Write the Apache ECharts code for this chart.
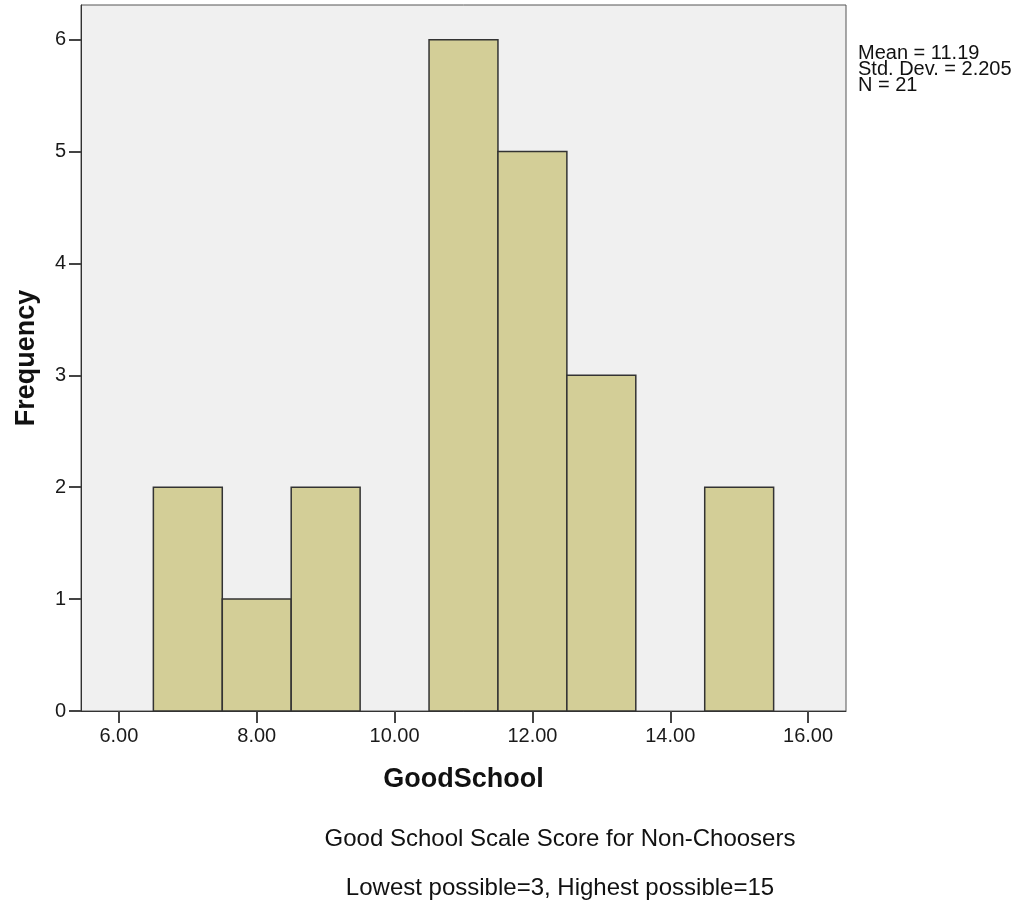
<!DOCTYPE html>
<html>
<head>
<meta charset="utf-8">
<script src="https://cdn.jsdelivr.net/npm/echarts@6/dist/echarts.min.js"></script>
<style>
html,body{margin:0;padding:0;background:#fff;}
#chart{width:1015px;height:900px;}
</style>
</head>
<body>
<div id="chart"></div>
<script>
// Histogram bins (lower edge, upper edge) and frequencies
var binStart = [6.5, 7.5, 8.5, 10.5, 11.5, 12.5, 14.5];
var binEnd   = [7.5, 8.5, 9.5, 11.5, 12.5, 13.5, 15.5];
var frequency = [2, 1, 2, 6, 5, 3, 2];
var xTicks = [6, 8, 10, 12, 14, 16];
var yTicks = [0, 1, 2, 3, 4, 5, 6];
var statsLines = ['Mean = 11.19', 'Std. Dev. = 2.205', 'N = 21'];
var xName = 'GoodSchool';
var yName = 'Frequency';
var noteLines = ['Good School Scale Score for Non-Choosers', 'Lowest possible=3, Highest possible=15'];

var FONT = '"Liberation Sans", Arial, sans-serif';
var data = binStart.map(function (s, i) { return [s, binEnd[i], frequency[i]]; });

var chart = echarts.init(document.getElementById('chart'), null, {renderer: 'canvas'});
chart.setOption({
  animation: false,
  backgroundColor: '#ffffff',
  grid: {
    left: 81, top: 5, right: 169, bottom: 189,
    containLabel: false, outerBoundsMode: 'none',
    show: true, backgroundColor: '#f0f0f0', borderColor: '#555', borderWidth: 1
  },
  xAxis: {
    type: 'value', min: 5.45, max: 16.55,
    name: xName, nameLocation: 'middle', nameGap: 55,
    nameTextStyle: {fontFamily: FONT, fontSize: 27, fontWeight: 'bold', color: '#111'},
    axisLine: {show: true, lineStyle: {color: '#333', width: 1}},
    axisTick: {show: true, length: 12, customValues: xTicks, lineStyle: {color: '#444', width: 2}},
    axisLabel: {customValues: xTicks, margin: 15, fontFamily: FONT, fontSize: 20, color: '#1a1a1a',
      formatter: function (v) { return v.toFixed(2); }},
    splitLine: {show: false}
  },
  yAxis: {
    type: 'value', min: 0, max: 6.31,
    name: yName, nameLocation: 'middle', nameGap: 41, nameRotate: 90,
    nameTextStyle: {fontFamily: FONT, fontSize: 27, fontWeight: 'bold', color: '#111'},
    axisLine: {show: true, lineStyle: {color: '#333', width: 1}},
    axisTick: {show: true, length: 12, customValues: yTicks, lineStyle: {color: '#444', width: 2}},
    axisLabel: {customValues: yTicks, margin: 15, fontFamily: FONT, fontSize: 20, color: '#1a1a1a'},
    splitLine: {show: false}
  },
  series: [{
    type: 'custom',
    data: data,
    encode: {x: [0, 1], y: 2},
    renderItem: function (params, api) {
      var p0 = api.coord([api.value(0), api.value(2)]);
      var p1 = api.coord([api.value(1), 0]);
      return {
        type: 'rect',
        shape: {x: p0[0], y: p0[1], width: p1[0] - p0[0], height: p1[1] - p0[1]},
        style: {fill: '#d3ce97', stroke: '#333', lineWidth: 1.5}
      };
    }
  }],
  graphic: [
    {type: 'text', left: 858, top: 43, style: {text: statsLines.join('\n'), font: '20px ' + FONT, lineHeight: 16, fill: '#111'}},
    {type: 'text', x: 560, y: 839, style: {text: noteLines[0], font: '24px ' + FONT, fill: '#111', align: 'center', verticalAlign: 'middle'}},
    {type: 'text', x: 560, y: 888, style: {text: noteLines[1], font: '24px ' + FONT, fill: '#111', align: 'center', verticalAlign: 'middle'}}
  ]
});
</script>
</body>
</html>
